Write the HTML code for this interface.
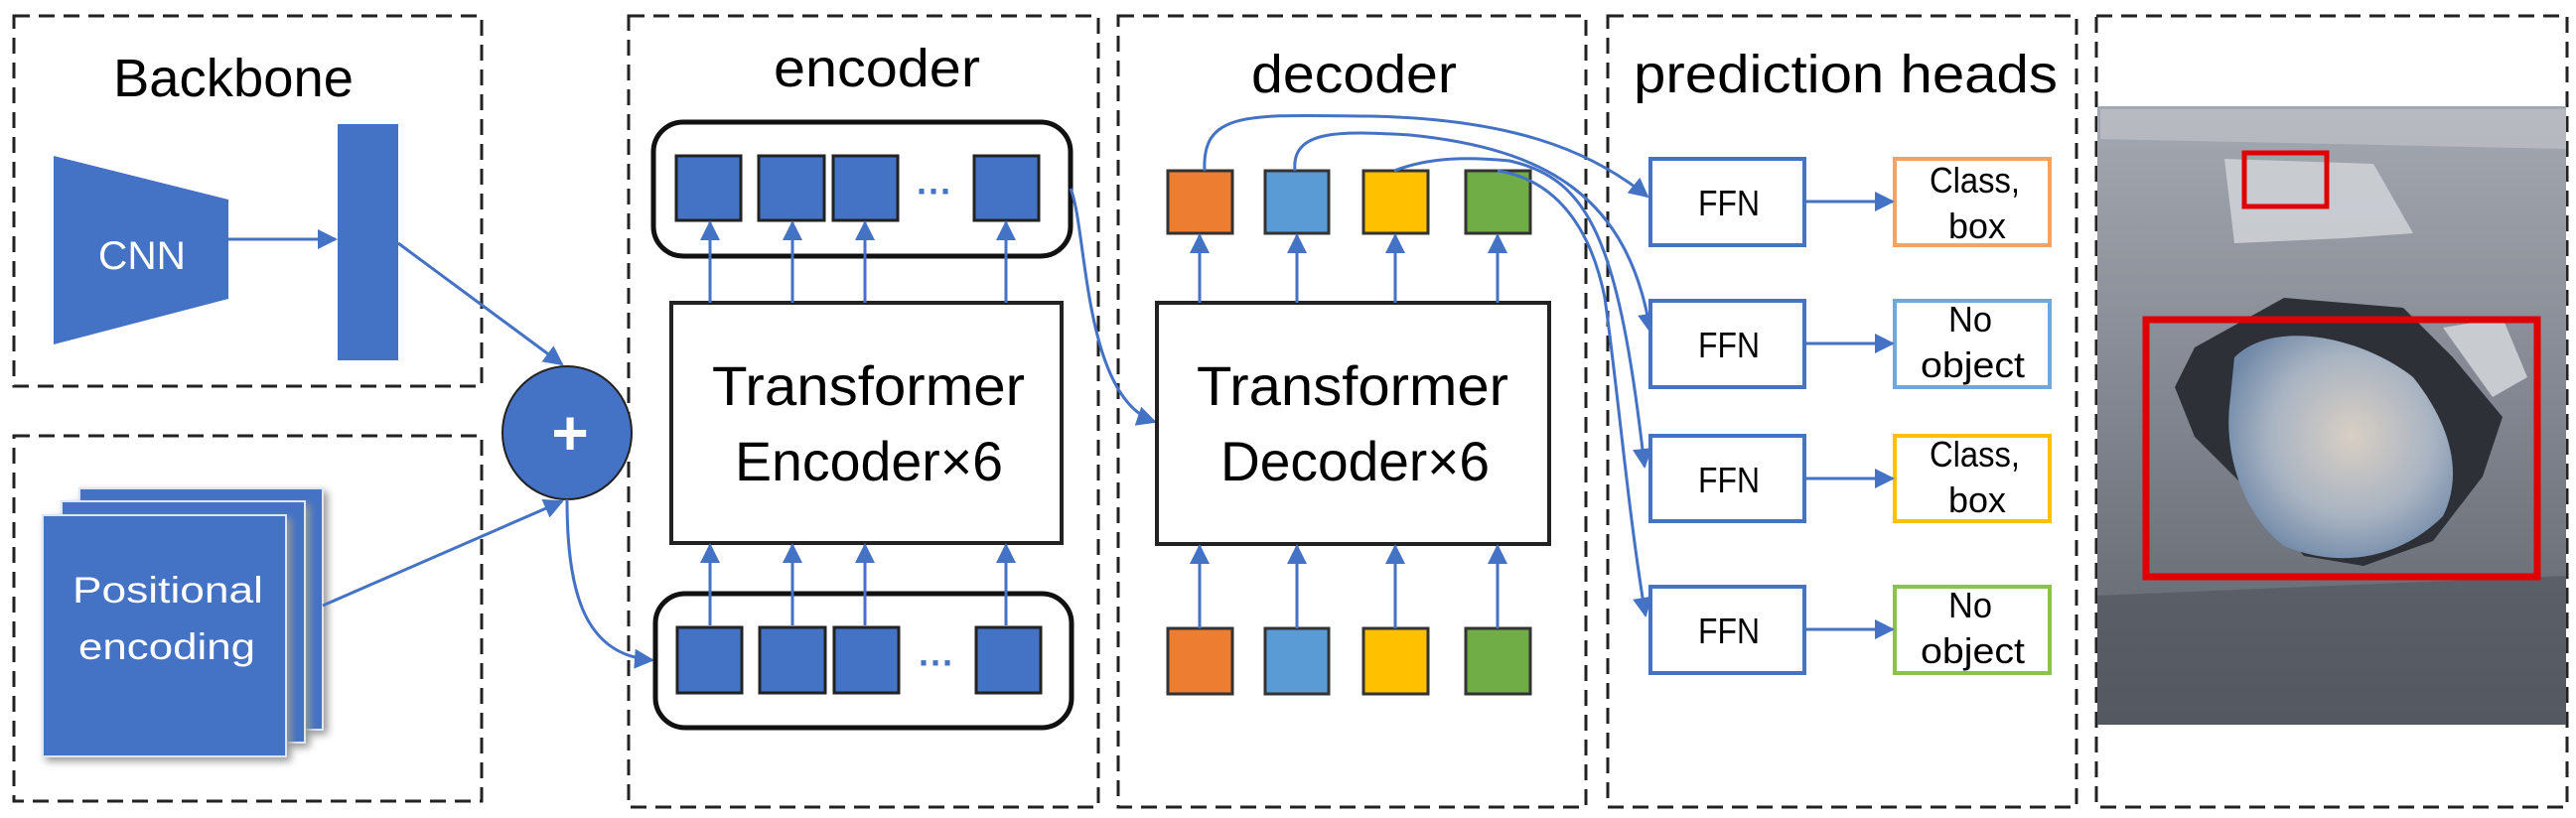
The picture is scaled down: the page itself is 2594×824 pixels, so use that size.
<!DOCTYPE html>
<html><head><meta charset="utf-8"><style>
html,body{margin:0;padding:0;background:#fff;}
svg{display:block;}
text{font-family:"Liberation Sans",sans-serif;}
</style></head><body>
<svg width="2594" height="824" viewBox="0 0 2594 824" xmlns="http://www.w3.org/2000/svg">
<defs>
<marker id="a" viewBox="0 0 10 10" refX="9" refY="5" markerWidth="22" markerHeight="20" markerUnits="userSpaceOnUse" orient="auto"><path d="M0,0 L10,5 L0,10 z" fill="#4472C4"/></marker>
<radialGradient id="water" cx="0.55" cy="0.45" r="0.6"><stop offset="0" stop-color="#d9cfc4"/><stop offset="0.6" stop-color="#a9b4c2"/><stop offset="1" stop-color="#7089a8"/></radialGradient>
<linearGradient id="road" x1="0" y1="0" x2="0" y2="1"><stop offset="0" stop-color="#a4a8b0"/><stop offset="0.4" stop-color="#878c96"/><stop offset="1" stop-color="#5c6169"/></linearGradient>
</defs>
<g fill="none" stroke="#222" stroke-width="3" stroke-dasharray="16,9">
<rect x="14" y="16" width="471" height="373"/>
<rect x="14" y="439" width="471" height="368"/>
<rect x="633" y="16" width="473" height="797"/>
<rect x="1126" y="16" width="471" height="797"/>
<rect x="1619" y="16" width="472" height="797"/>
<rect x="2111" y="16" width="474" height="797"/>
</g>
<text x="114" y="97" font-size="54" textLength="242" lengthAdjust="spacingAndGlyphs">Backbone</text>
<text x="779" y="87" font-size="54" textLength="208" lengthAdjust="spacingAndGlyphs">encoder</text>
<text x="1260" y="93" font-size="54" textLength="207" lengthAdjust="spacingAndGlyphs">decoder</text>
<text x="1645" y="93" font-size="54" textLength="427" lengthAdjust="spacingAndGlyphs">prediction heads</text>
<!-- backbone -->
<polygon points="54,157 230,201 230,301 54,347" fill="#4472C4"/>
<text x="99" y="271" font-size="40" fill="#fff" textLength="88" lengthAdjust="spacingAndGlyphs">CNN</text>
<rect x="340" y="125" width="61" height="238" fill="#4472C4"/>
<line x1="230" y1="241" x2="338" y2="241" stroke="#4472C4" stroke-width="3" marker-end="url(#a)"/>
<!-- positional -->
<rect x="80" y="492" width="245" height="243" fill="#4472C4" stroke="#dfe6f3" stroke-width="2" style="filter:drop-shadow(4px 4px 4px #999)"/>
<rect x="62" y="505" width="245" height="243" fill="#4472C4" stroke="#dfe6f3" stroke-width="2" style="filter:drop-shadow(4px 4px 4px #999)"/>
<rect x="43" y="519" width="245" height="243" fill="#4472C4" stroke="#dfe6f3" stroke-width="2" style="filter:drop-shadow(4px 4px 4px #999)"/>
<text x="73" y="607" font-size="37" fill="#fff" textLength="192" lengthAdjust="spacingAndGlyphs">Positional</text>
<text x="79" y="664" font-size="37" fill="#fff" textLength="178" lengthAdjust="spacingAndGlyphs">encoding</text>
<!-- circle -->
<line x1="401" y1="245" x2="566" y2="367" stroke="#4472C4" stroke-width="3" marker-end="url(#a)"/>
<line x1="325" y1="610" x2="566" y2="505" stroke="#4472C4" stroke-width="3" marker-end="url(#a)"/>
<ellipse cx="571" cy="436" rx="65" ry="67" fill="#4472C4" stroke="#222" stroke-width="2"/>
<text x="574" y="458" font-size="64" fill="#fff" text-anchor="middle" font-weight="bold">+</text>
<path d="M571,503 C571,600 590,660 657,665" fill="none" stroke="#4472C4" stroke-width="3" marker-end="url(#a)"/>
<!-- encoder -->
<rect x="658" y="123" width="420" height="135" rx="30" fill="#fff" stroke="#111" stroke-width="5"/>
<rect x="660" y="598" width="419" height="135" rx="30" fill="#fff" stroke="#111" stroke-width="5"/>
<g fill="#4472C4" stroke="#222" stroke-width="3">
<rect x="681" y="157" width="65" height="65"/><rect x="764" y="157" width="66" height="65"/><rect x="839" y="157" width="65" height="65"/><rect x="981" y="157" width="65" height="65"/>
<rect x="682" y="632" width="65" height="66"/><rect x="765" y="632" width="66" height="66"/><rect x="840" y="632" width="65" height="66"/><rect x="983" y="632" width="65" height="66"/>
</g>
<text x="941" y="205" font-size="36" fill="#4472C4" text-anchor="middle" font-weight="bold">···</text>
<text x="943" y="680" font-size="36" fill="#4472C4" text-anchor="middle" font-weight="bold">···</text>
<rect x="676" y="305" width="393" height="242" fill="#fff" stroke="#222" stroke-width="4"/>
<text x="717" y="408" font-size="56" textLength="315" lengthAdjust="spacingAndGlyphs">Transformer</text>
<text x="740" y="484" font-size="56" textLength="270" lengthAdjust="spacingAndGlyphs">Encoder×6</text>
<g stroke="#4472C4" stroke-width="3" marker-end="url(#a)">
<line x1="715" y1="305" x2="715" y2="224"/><line x1="798" y1="305" x2="798" y2="224"/><line x1="871" y1="305" x2="871" y2="224"/><line x1="1013" y1="305" x2="1013" y2="224"/>
<line x1="715" y1="630" x2="715" y2="549"/><line x1="798" y1="630" x2="798" y2="549"/><line x1="871" y1="630" x2="871" y2="549"/><line x1="1013" y1="630" x2="1013" y2="549"/>
</g>
<path d="M1078,190 C1095,230 1090,400 1163,425" fill="none" stroke="#4472C4" stroke-width="3" marker-end="url(#a)"/>
<!-- decoder -->
<rect x="1165" y="305" width="395" height="243" fill="#fff" stroke="#222" stroke-width="4"/>
<text x="1205" y="408" font-size="56" textLength="314" lengthAdjust="spacingAndGlyphs">Transformer</text>
<text x="1229" y="484" font-size="56" textLength="271" lengthAdjust="spacingAndGlyphs">Decoder×6</text>
<g stroke="#333" stroke-width="3">
<rect x="1176" y="172" width="65" height="63" fill="#ED7D31"/><rect x="1274" y="172" width="64" height="63" fill="#5B9BD5"/><rect x="1373" y="172" width="65" height="63" fill="#FFC000"/><rect x="1476" y="172" width="65" height="63" fill="#70AD47"/>
<rect x="1176" y="633" width="65" height="66" fill="#ED7D31"/><rect x="1274" y="633" width="64" height="66" fill="#5B9BD5"/><rect x="1373" y="633" width="65" height="66" fill="#FFC000"/><rect x="1476" y="633" width="65" height="66" fill="#70AD47"/>
</g>
<g stroke="#4472C4" stroke-width="3" marker-end="url(#a)">
<line x1="1208" y1="305" x2="1208" y2="237"/><line x1="1306" y1="305" x2="1306" y2="237"/><line x1="1405" y1="305" x2="1405" y2="237"/><line x1="1508" y1="305" x2="1508" y2="237"/>
<line x1="1208" y1="633" x2="1208" y2="550"/><line x1="1306" y1="633" x2="1306" y2="550"/><line x1="1405" y1="633" x2="1405" y2="550"/><line x1="1508" y1="633" x2="1508" y2="550"/>
</g>
<g fill="none" stroke="#4472C4" stroke-width="3" marker-end="url(#a)">
<path d="M1213,172 C1210,110 1260,116 1380,117 C1520,120 1600,150 1659,198"/>
<path d="M1304,172 C1300,130 1350,132 1420,136 C1560,150 1640,200 1662,334"/>
<path d="M1404,172 C1440,158 1480,158 1520,162 C1600,180 1630,240 1656,470"/>
<path d="M1508,172 C1560,180 1600,220 1616,300 C1630,400 1640,520 1657,620"/>
</g>
<!-- heads -->
<g fill="#fff" stroke-width="4">
<rect x="1662" y="160" width="155" height="87" stroke="#4472C4"/>
<rect x="1662" y="303" width="155" height="87" stroke="#4472C4"/>
<rect x="1662" y="439" width="155" height="86" stroke="#4472C4"/>
<rect x="1662" y="591" width="155" height="87" stroke="#4472C4"/>
<rect x="1908" y="160" width="156" height="87" stroke="#F4A460"/>
<rect x="1908" y="303" width="156" height="87" stroke="#6FA8DC"/>
<rect x="1908" y="439" width="156" height="86" stroke="#FFC000"/>
<rect x="1908" y="591" width="156" height="87" stroke="#8BC34A"/>
</g>
<g stroke="#4472C4" stroke-width="3" marker-end="url(#a)">
<line x1="1817" y1="203" x2="1906" y2="203"/><line x1="1817" y1="346" x2="1906" y2="346"/><line x1="1817" y1="482" x2="1906" y2="482"/><line x1="1817" y1="634" x2="1906" y2="634"/>
</g>
<g font-size="36">
<text x="1710" y="217" textLength="62" lengthAdjust="spacingAndGlyphs">FFN</text>
<text x="1710" y="360" textLength="62" lengthAdjust="spacingAndGlyphs">FFN</text>
<text x="1710" y="496" textLength="62" lengthAdjust="spacingAndGlyphs">FFN</text>
<text x="1710" y="648" textLength="62" lengthAdjust="spacingAndGlyphs">FFN</text>
<text x="1943" y="194" textLength="91" lengthAdjust="spacingAndGlyphs">Class,</text>
<text x="1962" y="240" textLength="58" lengthAdjust="spacingAndGlyphs">box</text>
<text x="1962" y="334" textLength="44" lengthAdjust="spacingAndGlyphs">No</text>
<text x="1934" y="380" textLength="105" lengthAdjust="spacingAndGlyphs">object</text>
<text x="1943" y="470" textLength="91" lengthAdjust="spacingAndGlyphs">Class,</text>
<text x="1962" y="516" textLength="58" lengthAdjust="spacingAndGlyphs">box</text>
<text x="1962" y="622" textLength="44" lengthAdjust="spacingAndGlyphs">No</text>
<text x="1934" y="668" textLength="105" lengthAdjust="spacingAndGlyphs">object</text>
</g>
<!-- photo -->
<rect x="2112" y="107" width="472" height="623" fill="url(#road)"/>
<polygon points="2115,110 2584,110 2584,150 2115,140" fill="#c4c7cc" opacity="0.6"/>
<polygon points="2240,160 2390,165 2430,235 2360,240 2250,245" fill="#d0d3d8" opacity="0.85"/>
<polygon points="2210,350 2300,300 2420,310 2470,360 2520,420 2500,480 2450,545 2380,570 2320,560 2270,500 2210,440 2190,390" fill="#2d3036"/>
<path d="M2250,360 C2290,320 2380,340 2430,380 C2470,430 2480,480 2460,520 C2420,560 2360,575 2300,550 C2260,520 2240,460 2245,410 Z" fill="url(#water)"/>
<polygon points="2460,330 2520,320 2545,380 2510,400" fill="#c8cbd0"/>
<polygon points="2112,600 2584,580 2584,730 2112,730" fill="#4f545b" opacity="0.6"/>
<rect x="2260" y="154" width="83" height="54" fill="none" stroke="#E00000" stroke-width="5"/>
<rect x="2161" y="322" width="394" height="259" fill="none" stroke="#E00000" stroke-width="7"/>
</svg>
</body></html>
